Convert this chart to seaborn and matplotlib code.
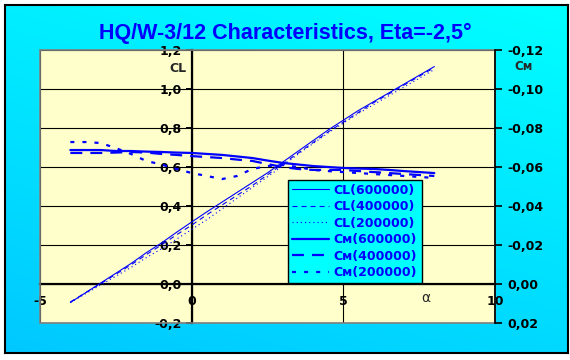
import numpy as np
import pandas as pd
import matplotlib
matplotlib.use("Agg")
import matplotlib.pyplot as plt
import matplotlib.patches as patches
from matplotlib.ticker import FuncFormatter
import seaborn as sns

alpha = [-4, -3.5, -3, -2.5, -2, -1.5, -1, -0.5, 0, 0.5, 1, 1.5, 2,
         2.5, 3, 3.5, 4, 4.5, 5, 5.5, 6, 6.5, 7, 7.5, 8]

cl_600 = [-0.095, -0.045, 0.005, 0.055, 0.105, 0.16, 0.21, 0.265, 0.318, 0.37,
          0.42, 0.47, 0.52, 0.57, 0.625, 0.68, 0.735, 0.79, 0.84, 0.89,
          0.935, 0.98, 1.025, 1.07, 1.115]
cl_400 = [-0.092, -0.045, 0.002, 0.05, 0.098, 0.15, 0.2, 0.252, 0.302, 0.355,
          0.405, 0.455, 0.505, 0.56, 0.615, 0.67, 0.725, 0.78, 0.83, 0.88,
          0.93, 0.975, 1.02, 1.065, 1.11]
cl_200 = [-0.095, -0.05, -0.005, 0.04, 0.085, 0.135, 0.18, 0.23, 0.28, 0.33,
          0.385, 0.44, 0.495, 0.55, 0.605, 0.665, 0.72, 0.775, 0.825, 0.875,
          0.92, 0.965, 1.01, 1.055, 1.1]

cm_600 = [-0.0687, -0.0687, -0.0687, -0.0682, -0.0682, -0.0679, -0.0677, -0.0674,
          -0.0672, -0.0667, -0.0662, -0.0654, -0.0646, -0.0633, -0.0621, -0.0613,
          -0.0605, -0.0600, -0.0595, -0.0592, -0.0590, -0.0585, -0.0579, -0.0574,
          -0.0569]
cm_400 = [-0.0672, -0.0672, -0.0672, -0.0674, -0.0677, -0.0674, -0.0667, -0.0662,
          -0.0656, -0.0651, -0.0646, -0.0638, -0.0631, -0.0615, -0.0600, -0.0590,
          -0.0585, -0.0585, -0.0585, -0.0579, -0.0574, -0.0569, -0.0564, -0.0559,
          -0.0554]
cm_200 = [-0.0728, -0.0728, -0.0723, -0.0697, -0.0667, -0.0631, -0.0613, -0.0590,
          -0.0569, -0.0554, -0.0538, -0.0554, -0.0590, -0.0605, -0.0610, -0.0600,
          -0.0585, -0.0579, -0.0574, -0.0569, -0.0564, -0.0559, -0.0554, -0.0549,
          -0.0544]

cl_ticks = [-0.2, 0.0, 0.2, 0.4, 0.6, 0.8, 1.0, 1.2]
cm_ticks = [-0.12, -0.10, -0.08, -0.06, -0.04, -0.02, 0.0, 0.02]
x_ticks = [-5, 0, 5, 10]

title = "HQ/W-3/12 Characteristics, Eta=-2,5°"
blue = "#0000FF"

sns.set_style("white")
plt.rcParams["font.family"] = ["DejaVu Sans"]
plt.rcParams["lines.scale_dashes"] = False

df = pd.DataFrame({"alpha": alpha, "cl600": cl_600, "cl400": cl_400, "cl200": cl_200,
                   "cm600": cm_600, "cm400": cm_400, "cm200": cm_200})

fig = plt.figure(figsize=(5.7, 3.6), dpi=100)
fig.patch.set_facecolor("white")

# gradient frame
bg = fig.add_axes([5 / 570, 7 / 360, 563 / 570, 348 / 360])
yy, xx = np.mgrid[0:1:200j, 0:1:300j]
t = 0.7 * (1 - yy) + 0.3 * xx
img = np.zeros((200, 300, 3))
img[..., 1] = (200 + 55 * t) / 255
img[..., 2] = 1.0
bg.imshow(img, aspect="auto", extent=[0, 1, 0, 1], origin="upper")
bg.set_xticks([])
bg.set_yticks([])
for s in bg.spines.values():
    s.set_color("black")
    s.set_linewidth(1.5)

ax = fig.add_axes([40 / 570, 37 / 360, 455 / 570, 273 / 360])
ax.set_facecolor("#FFFFCC")

sns.lineplot(data=df, x="alpha", y="cl600", ax=ax, color=blue, lw=0.8,
             label="CL(600000)")
sns.lineplot(data=df, x="alpha", y="cl400", ax=ax, color=blue, lw=0.8,
             linestyle=(0, (3.6, 2.9)), label="CL(400000)")
sns.lineplot(data=df, x="alpha", y="cl200", ax=ax, color=blue, lw=0.8,
             linestyle=(0, (0.8, 2.2)), label="CL(200000)")

ax.set_xlim(-5, 10)
ax.set_ylim(-0.2, 1.2)
ax.set_xticks(x_ticks)
ax.set_yticks(cl_ticks)
ax.grid(True, color="black", lw=0.8)
ax.set_axisbelow(True)
ax.set_xlabel("")
ax.set_ylabel("")

for side in ["top", "right"]:
    ax.spines[side].set_visible(False)
ax.spines["left"].set_position(("data", 0))
ax.spines["bottom"].set_position(("data", 0))
ax.spines["left"].set_linewidth(1.6)
ax.spines["bottom"].set_linewidth(1.6)
ax.spines["left"].set_color("black")
ax.spines["bottom"].set_color("black")
ax.spines["left"].set_zorder(1.5)
ax.spines["bottom"].set_zorder(1.5)
ax.add_patch(patches.Rectangle((0, 0), 1, 1, transform=ax.transAxes, fill=False,
                               edgecolor="#808080", lw=1.2, clip_on=False, zorder=3))

ax.tick_params(axis="both", direction="out", length=4, width=1.4, colors="black",
               labelsize=9)
ax.tick_params(axis="x", pad=4)
ax.tick_params(axis="y", pad=3)
ax.xaxis.set_major_formatter(FuncFormatter(lambda v, p: f"{v:g}"))
ax.yaxis.set_major_formatter(FuncFormatter(lambda v, p: f"{v:.1f}".replace(".", ",")))
for lab in ax.get_xticklabels() + ax.get_yticklabels():
    lab.set_fontweight("bold")

ax2 = ax.twinx()
sns.lineplot(data=df, x="alpha", y="cm600", ax=ax2, color=blue, lw=1.6,
             label="C\u1d0d(600000)")
sns.lineplot(data=df, x="alpha", y="cm400", ax=ax2, color=blue, lw=1.6,
             linestyle=(0, (8.6, 5.8)), label="C\u1d0d(400000)")
sns.lineplot(data=df, x="alpha", y="cm200", ax=ax2, color=blue, lw=1.6,
             linestyle=(0, (2.9, 5.8)), label="C\u1d0d(200000)")
ax2.set_ylim(0.02, -0.12)
ax2.set_yticks(cm_ticks)
ax2.set_ylabel("")
ax2.set_xlabel("")
for side in ["top", "left", "bottom"]:
    ax2.spines[side].set_visible(False)
ax2.spines["right"].set_color("black")
ax2.spines["right"].set_linewidth(1.2)
ax2.tick_params(axis="y", direction="out", length=5, width=1.2, colors="black",
                labelsize=9, pad=4)
ax2.yaxis.set_major_formatter(
    FuncFormatter(lambda v, p: (f"{v:.2f}".replace(".", ",")).replace("-0,00", "0,00")))
for lab in ax2.get_yticklabels():
    lab.set_fontweight("bold")

h1, l1 = ax.get_legend_handles_labels()
h2, l2 = ax2.get_legend_handles_labels()
ax.get_legend().remove()
leg = ax2.legend(h1 + h2, l1 + l2, loc="lower left",
                 bbox_to_anchor=(288 / 570, 77 / 360, 134 / 570, 100 / 360),
                 bbox_transform=fig.transFigure, mode="expand",
                 frameon=True, fancybox=False, framealpha=1, facecolor="#00FFFF",
                 edgecolor="black", fontsize=9, handlelength=3.0, handletextpad=0.3,
                 labelspacing=0.28, borderpad=0.3, borderaxespad=0)
leg.get_frame().set_linewidth(1.0)
for txt in leg.get_texts():
    txt.set_color(blue)
    txt.set_fontweight("bold")

fig.text(0.5, 1 - 33 / 360, title, ha="center", va="center", color=blue,
         fontsize=15.5, fontweight="bold", family="Liberation Sans")
fig.text(178 / 570, 1 - 69 / 360, "CL", ha="center", va="center", fontsize=9,
         fontweight="bold")
fig.text(524 / 570, 1 - 66 / 360, "C\u1d0d", ha="center", va="center", fontsize=8.5,
         fontweight="bold")
fig.text(426 / 570, 1 - 298 / 360, "\u03b1", ha="center", va="center", fontsize=10)

fig.savefig("out.png", dpi=100)
